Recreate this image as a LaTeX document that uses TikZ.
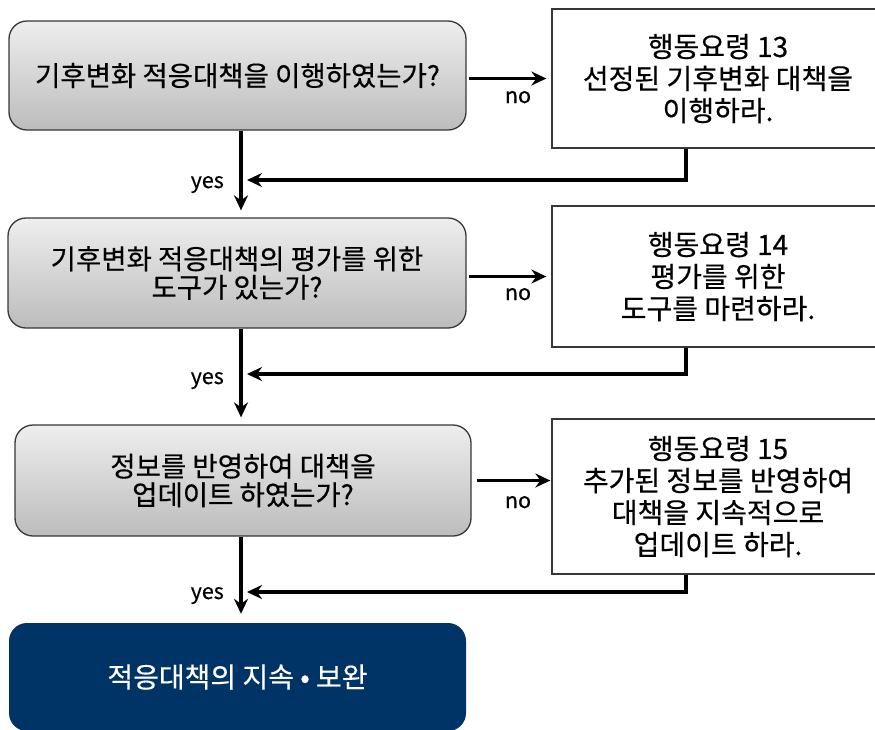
\documentclass[tikz,border=0pt]{standalone}
\usepackage{fontspec}
\setmainfont{Noto Sans CJK KR}[FakeBold=0.4]
\usetikzlibrary{arrows.meta,calc}
\definecolor{navy}{RGB}{0,51,102}
\definecolor{boxline}{RGB}{55,55,55}
\definecolor{gtop}{RGB}{238,238,238}
\definecolor{gbot}{RGB}{188,188,188}
\begin{document}
\begin{tikzpicture}[x=1pt,y=-1pt,
  question/.style={draw=boxline,line width=1.3pt,rounded corners=18pt,
    top color=gtop,bottom color=gbot,inner sep=0pt,align=center,
    font=\fontsize{27.5}{28.5}\selectfont},
  action/.style={draw=boxline,line width=1.3pt,fill=white,inner sep=0pt,
    align=center,font=\fontsize{28}{32}\selectfont},
  final/.style={fill=navy,rounded corners=18pt,inner sep=0pt,text=white,
    align=center,font=\fontsize{28}{30}\selectfont},
  conn/.style={line width=3.5pt,-{Stealth[length=15pt,width=14pt,inset=5pt]}},
  lbl/.style={inner sep=0pt,font=\fontsize{21.5}{24}\selectfont}
]
\useasboundingbox (0,0) rectangle (875,729);
\clip (0,0) rectangle (875,729);
% left column
\node[question,minimum width=457pt,minimum height=109pt] (q1) at (237.5,75.5)
  {기후변화 적응대책을 이행하였는가?};
\node[question,minimum width=458pt,minimum height=110pt] (q2) at (237,273)
  {기후변화 적응대책의 평가를 위한\\도구가 있는가?};
\node[question,minimum width=456pt,minimum height=111pt] (q3) at (243,480.5)
  {정보를 반영하여 대책을\\업데이트 하였는가?};
\node[final,minimum width=457pt,minimum height=108pt] (fin) at (237.5,677)
  {적응대책의 지속 • 보완};
% right column
\node[action,minimum width=332pt,minimum height=139pt] (a1) at (718,78.5)
  {행동요령 13\\선정된 기후변화 대책을\\이행하라.};
\node[action,minimum width=332pt,minimum height=141pt] (a2) at (718,276.5)
  {행동요령 14\\평가를 위한\\도구를 마련하라.};
\node[action,minimum width=332pt,minimum height=155pt] (a3) at (718,496.5)
  {행동요령 15\\추가된 정보를 반영하여\\대책을 지속적으로\\업데이트 하라.};
% helper coordinates
\coordinate (col) at (241,0);
\coordinate (r1) at (247,180);
\coordinate (r2) at (247,374);
\coordinate (r3) at (247,592);
% yes arrows
\draw[conn,shorten >=7pt] (q1.south -| col) -- (q2.north -| col);
\draw[conn,shorten >=7pt] (q2.south -| col) -- (q3.north -| col);
\draw[conn,shorten >=9pt] (q3.south -| col) -- (fin.north -| col);
% no arrows
\draw[conn,shorten <=2pt,shorten >=5pt] (q1.east |- a1.west) -- (a1.west);
\draw[conn,shorten <=2pt,shorten >=5pt] (q2.east |- a2.west) -- (a2.west);
\draw[conn,shorten <=5pt,shorten >=1pt] (q3.east) -- (a3.west |- q3.east);
% return arrows
\draw[conn] ([xshift=-32pt]a1.south) |- (r1);
\draw[conn] ([xshift=-32pt]a2.south) |- (r2);
\draw[conn] ([xshift=-32pt]a3.south) |- (r3);
% labels
\node[lbl,anchor=base] (n1) at (518,103) {no};
\node[lbl,anchor=base] (n2) at (518,300) {no};
\node[lbl,anchor=base] (n3) at (518,508) {no};
\node[lbl,anchor=base east] (y1) at (224,188) {yes};
\node[lbl,anchor=base east] (y2) at (224,384) {yes};
\node[lbl,anchor=base east] (y3) at (224,599) {yes};
\end{tikzpicture}
\end{document}
